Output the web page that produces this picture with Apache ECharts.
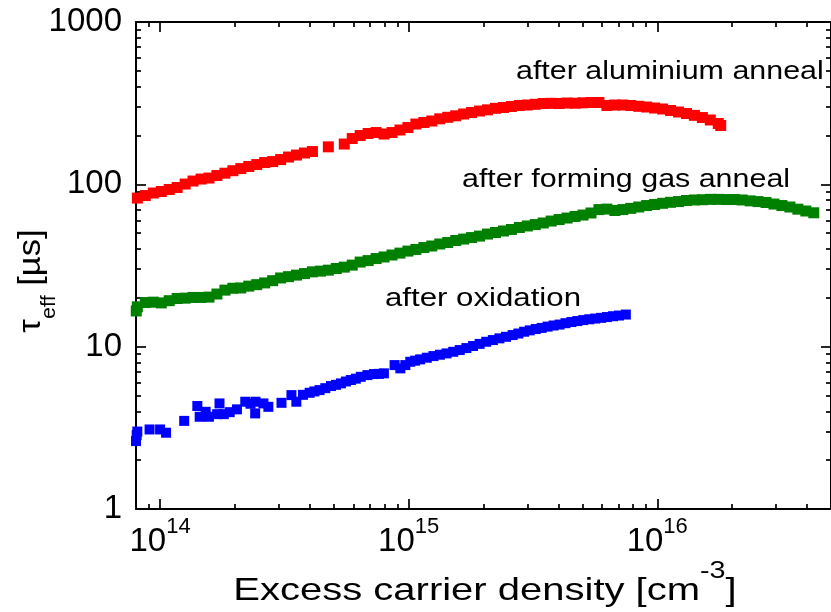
<!DOCTYPE html>
<html>
<head>
<meta charset="utf-8">
<script src="https://cdn.jsdelivr.net/npm/echarts@6/dist/echarts.min.js"></script>
<style>
  html, body { margin: 0; padding: 0; background: #ffffff; }
  #chart { width: 831px; height: 612px; }
</style>
</head>
<body>
<div id="chart"></div>
<script>
// Effective lifetime vs. excess carrier density after each process step.
// Carrier density in cm^-3, lifetime in microseconds.

const redN = [8.10e13, 8.72e13, 9.39e13, 1.011e14, 1.088e14, 1.171e14, 1.261e14, 1.357e14, 1.461e14, 1.573e14,
  1.693e14, 1.823e14, 1.962e14, 2.112e14, 2.274e14, 2.448e14, 2.635e14, 2.837e14, 3.054e14, 3.287e14,
  3.539e14, 3.810e14, 4.101e14, 4.752e14, 5.507e14, 5.929e14, 6.382e14, 6.870e14, 7.396e14, 7.962e14,
  8.571e14, 9.226e14, 9.932e14, 1.069e15, 1.151e15, 1.239e15, 1.334e15, 1.436e15, 1.546e15, 1.664e15,
  1.791e15, 1.928e15, 2.076e15, 2.235e15, 2.406e15, 2.590e15, 2.788e15, 3.001e15, 3.231e15, 3.478e15,
  3.744e15, 4.031e15, 4.339e15, 4.671e15, 5.028e15, 5.413e15, 5.827e15, 6.273e15, 6.753e15, 7.269e15,
  7.825e15, 8.424e15, 9.068e15, 9.762e15, 1.051e16, 1.131e16, 1.218e16, 1.311e16, 1.411e16, 1.519e16,
  1.635e16, 1.760e16, 1.80e16];
const redTau = [82.3, 85.3, 88.4, 90.3, 92.9, 95.6, 100.4, 104.8, 107.8, 109.3,
  113.3, 117.1, 121.3, 125.0, 128.8, 132.4, 136.2, 138.1, 142.1, 147.3,
  151.5, 155.9, 159.2, 170.2, 177.1, 191.5, 199.8, 205.6, 208.5, 204.1,
  208.5, 216.1, 223.9, 235.2, 240.3, 245.5, 253.3, 258.8, 264.3, 271.2,
  277.0, 282.9, 287.7, 294.0, 297.3, 301.6, 305.9, 308.1, 311.2, 314.7,
  315.6, 314.7, 316.9, 316.0, 317.8, 319.2, 319.2, 305.9, 308.1, 308.1,
  305.9, 302.4, 299.4, 295.2, 291.1, 284.9, 279.0, 273.1, 266.1, 257.9,
  249.0, 237.0, 230.3];

const greenN = [7.98e13, 8.02e13, 8.10e13, 8.72e13, 9.39e13, 1.011e14, 1.088e14, 1.171e14, 1.261e14, 1.357e14,
  1.461e14, 1.573e14, 1.693e14, 1.823e14, 1.962e14, 2.112e14, 2.274e14, 2.448e14, 2.635e14, 2.837e14,
  3.054e14, 3.287e14, 3.539e14, 3.810e14, 4.101e14, 4.415e14, 4.752e14, 5.116e14, 5.507e14, 5.929e14,
  6.382e14, 6.870e14, 7.396e14, 7.962e14, 8.571e14, 9.226e14, 9.932e14, 1.069e15, 1.151e15, 1.239e15,
  1.334e15, 1.436e15, 1.546e15, 1.664e15, 1.791e15, 1.928e15, 2.076e15, 2.235e15, 2.406e15, 2.590e15,
  2.788e15, 3.001e15, 3.231e15, 3.478e15, 3.744e15, 4.031e15, 4.339e15, 4.671e15, 5.028e15, 5.413e15,
  5.827e15, 6.273e15, 6.753e15, 7.269e15, 7.825e15, 8.424e15, 9.068e15, 9.762e15, 1.051e16, 1.131e16,
  1.218e16, 1.311e16, 1.411e16, 1.519e16, 1.635e16, 1.760e16, 1.895e16, 2.040e16, 2.196e16, 2.364e16,
  2.545e16, 2.739e16, 2.949e16, 3.174e16, 3.417e16, 3.679e16, 3.960e16, 4.263e16];
const greenTau = [15.5, 16.6, 17.6, 18.7, 18.8, 18.6, 19.2, 19.8, 19.9, 20.1,
  20.1, 20.2, 21.1, 22.3, 22.9, 23.0, 23.6, 24.1, 24.7, 25.5,
  26.5, 27.0, 27.6, 28.2, 28.9, 29.2, 29.6, 30.3, 30.9, 31.8,
  33.2, 33.9, 34.9, 35.7, 36.7, 37.7, 38.8, 39.7, 40.8, 41.7,
  42.9, 43.8, 45.1, 46.0, 47.0, 48.0, 49.4, 50.5, 51.6, 52.7,
  54.2, 55.4, 56.5, 57.8, 59.4, 60.7, 62.0, 63.4, 64.7, 66.6,
  69.9, 70.4, 69.0, 69.9, 71.1, 72.5, 74.0, 75.1, 76.4, 77.5,
  78.3, 79.5, 80.1, 80.4, 80.8, 80.8, 80.6, 80.6, 80.1, 79.1,
  78.3, 77.3, 75.6, 74.0, 72.5, 70.3, 68.5, 66.8];

const blueN = [8.0e13, 8.05e13, 8.1e13, 9.07e13, 1.00e14, 1.057e14, 1.25e14, 1.412e14, 1.443e14, 1.525e14,
  1.572e14, 1.696e14, 1.734e14, 1.804e14, 1.906e14, 2.038e14, 2.201e14, 2.311e14, 2.413e14, 2.42e14,
  2.604e14, 2.726e14, 3.079e14, 3.376e14, 3.533e14, 3.757e14, 3.997e14, 4.176e14, 4.380e14, 4.619e14,
  4.871e14, 5.100e14, 5.340e14, 5.591e14, 5.853e14, 6.129e14, 6.416e14, 6.822e14, 7.254e14, 7.595e14,
  7.951e14, 8.778e14, 9.258e14, 9.694e14, 1.015e15, 1.062e15, 1.112e15, 1.183e15, 1.258e15, 1.336e15,
  1.421e15, 1.511e15, 1.605e15, 1.707e15, 1.816e15, 1.929e15, 2.051e15, 2.181e15, 2.317e15, 2.464e15,
  2.620e15, 2.763e15, 2.914e15, 3.071e15, 3.245e15, 3.428e15, 3.622e15, 3.827e15, 4.045e15, 4.273e15,
  4.514e15, 4.770e15, 5.040e15, 5.326e15, 5.627e15, 5.945e15, 6.281e15, 6.637e15, 7.012e15, 7.476e15];
const blueTau = [2.62, 2.85, 3.0, 3.09, 3.09, 2.95, 3.49, 4.31, 3.70, 3.97,
  3.70, 3.84, 4.47, 3.84, 3.95, 4.11, 4.58, 4.45, 3.88, 4.58,
  4.47, 4.26, 4.51, 5.03, 4.58, 5.05, 5.20, 5.30, 5.40, 5.55,
  5.72, 5.82, 5.94, 6.10, 6.23, 6.35, 6.52, 6.68, 6.78, 6.80,
  6.85, 7.70, 7.35, 7.70, 8.07, 8.20, 8.35, 8.55, 8.75, 8.92,
  9.09, 9.30, 9.53, 9.80, 10.09, 10.40, 10.72, 10.98, 11.25, 11.50,
  11.79, 12.05, 12.36, 12.60, 12.84, 13.05, 13.29, 13.50, 13.68, 13.95,
  14.18, 14.38, 14.58, 14.75, 14.90, 15.05, 15.22, 15.40, 15.55, 15.77];

const seriesNames = ['after aluminium anneal', 'after forming gas anneal', 'after oxidation'];

// axis extents and tick positions
const xMin = 8e13, xMax = 5e16;
const yMin = 1, yMax = 1000;
const xMajor = [1e14, 1e15, 1e16];
const xMinor = [9e13, 2e14, 3e14, 4e14, 5e14, 6e14, 7e14, 8e14, 9e14,
  2e15, 3e15, 4e15, 5e15, 6e15, 7e15, 8e15, 9e15, 2e16, 3e16, 4e16];
const yMajor = [1, 10, 100, 1000];
const yMinor = [2, 3, 4, 5, 6, 7, 8, 9, 20, 30, 40, 50, 60, 70, 80, 90,
  200, 300, 400, 500, 600, 700, 800, 900];

const FONT = '"Liberation Sans", Arial, Helvetica, sans-serif';
const INK = '#000000';

const pairs = (xs, ys) => xs.map((x, i) => [x, ys[i]]);

// four grids share one rectangle: data + major ticks, minor ticks, mirrored majors, mirrored minors
const rect = { left: 136, top: 22, width: 704, height: 487 };
const grids = [0, 1, 2, 3].map(() => Object.assign({}, rect));

function xAxisFor(gridIndex, position, ticks, len, withLine, withLabels) {
  return {
    type: 'log', logBase: 10, gridIndex, position, min: xMin, max: xMax,
    axisLine: { show: withLine, onZero: false, lineStyle: { color: INK, width: 2 } },
    axisTick: { show: true, inside: true, length: len, customValues: ticks,
      lineStyle: { color: INK, width: 1.7 } },
    axisLabel: withLabels ? {
      show: true, customValues: xMajor, margin: 7,
      formatter: v => '{b|10}{s|' + Math.round(Math.log10(v)) + '}',
      rich: {
        b: { fontFamily: FONT, fontSize: 33, color: INK, lineHeight: 52 },
        s: { fontFamily: FONT, fontSize: 22, color: INK, lineHeight: 22, verticalAlign: 'top' }
      }
    } : { show: false },
    splitLine: { show: false }, minorTick: { show: false }, minorSplitLine: { show: false }
  };
}

function yAxisFor(gridIndex, position, ticks, len, withLine, withLabels) {
  return {
    type: 'log', logBase: 10, gridIndex, position, min: yMin, max: yMax,
    axisLine: { show: withLine, onZero: false, lineStyle: { color: INK, width: 2 } },
    axisTick: { show: true, inside: true, length: len, customValues: ticks,
      lineStyle: { color: INK, width: 1.7 } },
    axisLabel: withLabels ? {
      show: true, customValues: yMajor, margin: 14,
      fontFamily: FONT, fontSize: 33, color: INK,
      formatter: v => String(Math.round(v))
    } : { show: false },
    splitLine: { show: false }, minorTick: { show: false }, minorSplitLine: { show: false }
  };
}

const xAxes = [
  xAxisFor(0, 'bottom', xMajor, 10, true, true),
  xAxisFor(1, 'bottom', xMinor, 5, false, false),
  xAxisFor(2, 'top', xMajor, 10, true, false),
  xAxisFor(3, 'top', xMinor, 5, false, false)
];
const yAxes = [
  yAxisFor(0, 'left', yMajor, 10, true, true),
  yAxisFor(1, 'left', yMinor, 5, false, false),
  yAxisFor(2, 'right', yMajor, 10, true, false),
  yAxisFor(3, 'right', yMinor, 5, false, false)
];

function dots(name, color, size, data) {
  return {
    name, type: 'scatter', xAxisIndex: 0, yAxisIndex: 0,
    symbol: 'rect', symbolSize: size, clip: true,
    itemStyle: { color, opacity: 1 },
    emphasis: { disabled: true },
    data
  };
}

const textStyleBase = { fontFamily: FONT, fill: INK };

const option = {
  animation: false,
  backgroundColor: '#ffffff',
  grid: grids,
  xAxis: xAxes,
  yAxis: yAxes,
  series: [
    dots(seriesNames[2], '#0000ff', 10, pairs(blueN, blueTau)),
    dots(seriesNames[1], '#008000', 11, pairs(greenN, greenTau)),
    dots(seriesNames[0], '#ff0000', 11, pairs(redN, redTau))
  ],
  graphic: [
    { type: 'text', x: 516, y: 72, scaleX: 1.17,
      style: Object.assign({ text: seriesNames[0], fontSize: 26, verticalAlign: 'middle', align: 'left' }, textStyleBase) },
    { type: 'text', x: 462, y: 180, scaleX: 1.17,
      style: Object.assign({ text: seriesNames[1], fontSize: 26, verticalAlign: 'middle', align: 'left' }, textStyleBase) },
    { type: 'text', x: 385, y: 299, scaleX: 1.2,
      style: Object.assign({ text: seriesNames[2], fontSize: 26, verticalAlign: 'middle', align: 'left' }, textStyleBase) },
    // x-axis title
    { type: 'text', x: 485, y: 591, scaleX: 1.25,
      style: Object.assign({
        text: '{t|Excess carrier density [cm}{u|-3}{t|]}',
        align: 'center', verticalAlign: 'middle',
        rich: {
          t: { fontFamily: FONT, fontSize: 32, fill: INK, lineHeight: 62 },
          u: { fontFamily: FONT, fontSize: 23, fill: INK, lineHeight: 24, verticalAlign: 'top' }
        }
      }, textStyleBase) },
    // y-axis title
    { type: 'text', x: 31, y: 281, rotation: Math.PI / 2, scaleX: 1.08,
      style: Object.assign({
        text: '{t|τ}{s|eff}{t| [µs]}',
        align: 'center', verticalAlign: 'middle',
        rich: {
          t: { fontFamily: FONT, fontSize: 32, fill: INK, lineHeight: 56 },
          s: { fontFamily: FONT, fontSize: 20, fill: INK, lineHeight: 20, verticalAlign: 'bottom' }
        }
      }, textStyleBase) }
  ]
};

const chart = echarts.init(document.getElementById('chart'), null, { renderer: 'canvas' });
chart.setOption(option);
</script>
</body>
</html>
